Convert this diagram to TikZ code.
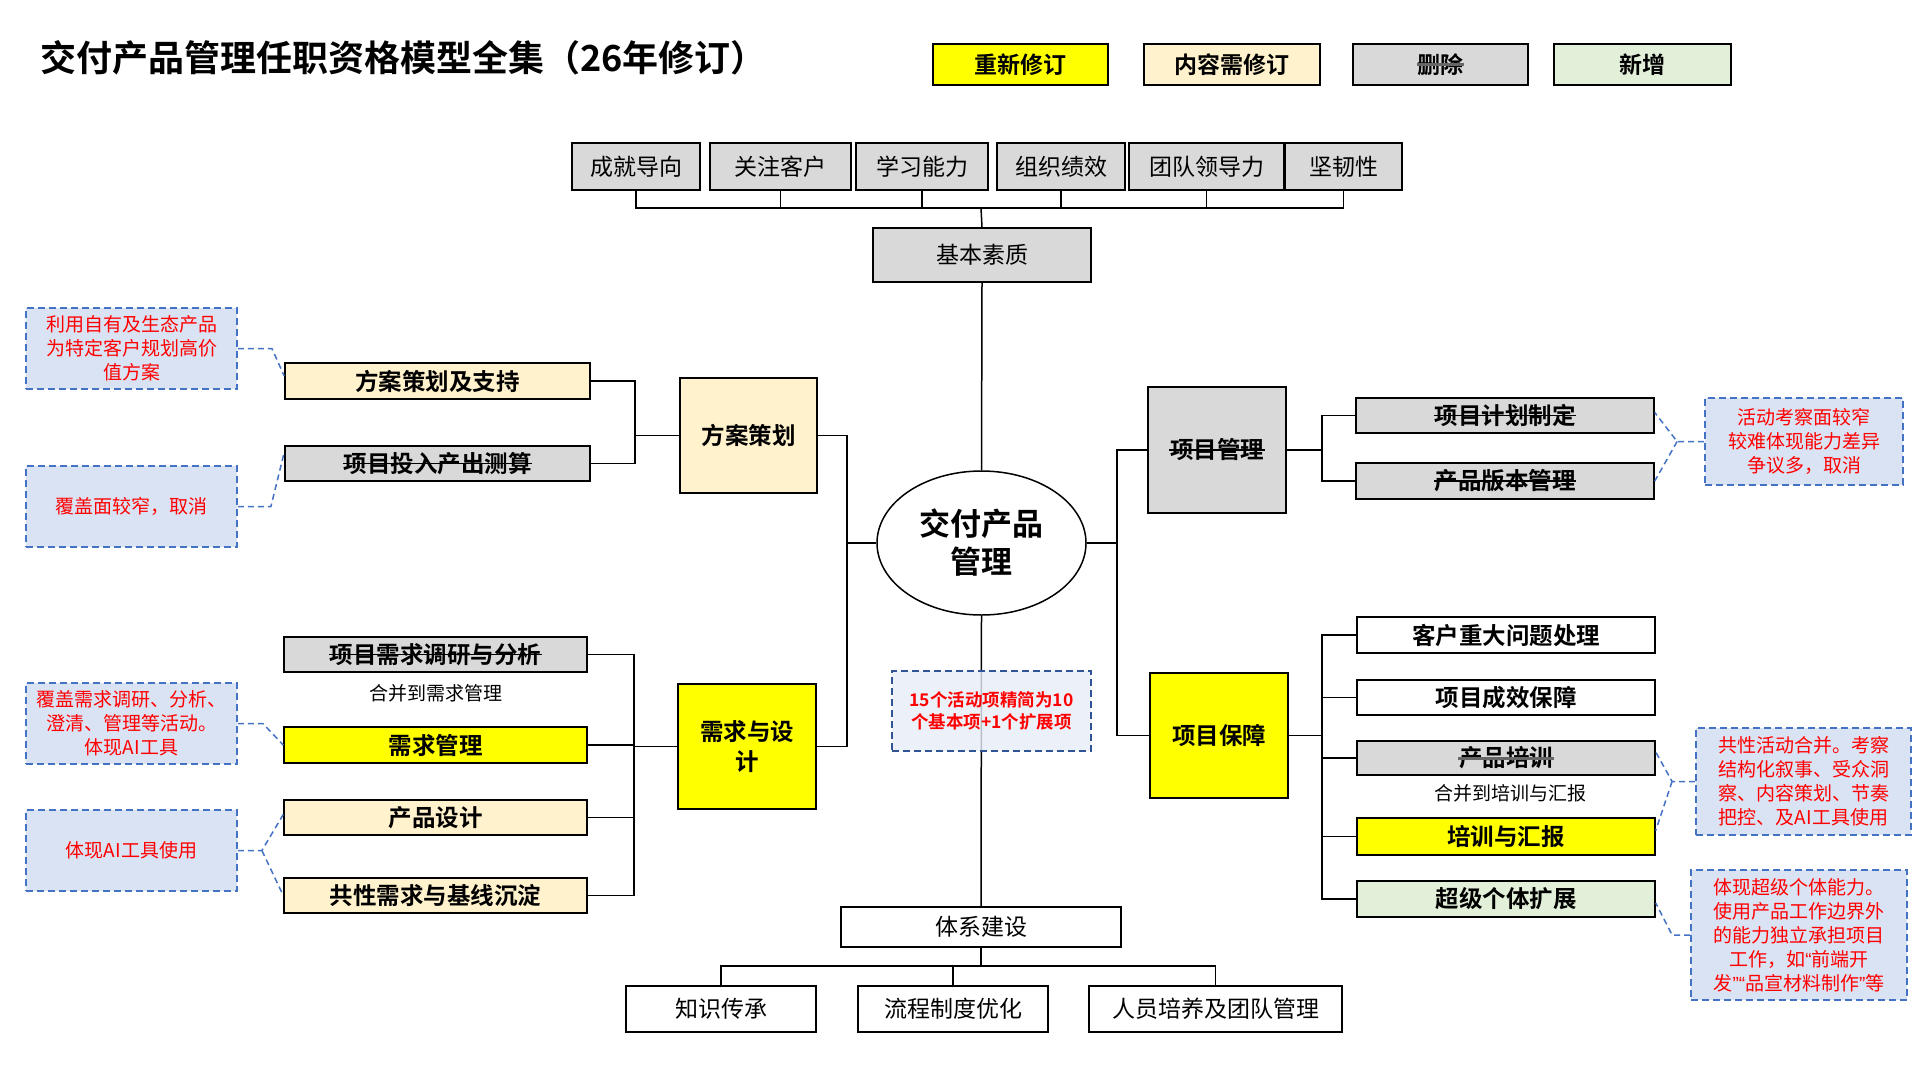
\documentclass[tikz,border=0pt]{standalone}
\usepackage{fontspec}
\setmainfont{Noto Sans CJK SC}[BoldFont={Noto Sans CJK SC Bold}]
\newfontfamily\latinq{Liberation Sans}
\usetikzlibrary{calc,shapes.geometric}
\definecolor{cyel}{HTML}{FFFF00}
\definecolor{ccream}{HTML}{FFF2CC}
\definecolor{cgray}{HTML}{D9D9D9}
\definecolor{cgreen}{HTML}{E2F0D9}
\definecolor{cnote}{HTML}{DAE3F3}
\definecolor{cnotetwo}{HTML}{E8EEF8}
\definecolor{cdash}{HTML}{4472C4}
\definecolor{cdashtwo}{HTML}{2F5597}
\definecolor{cred}{HTML}{FF0000}
\newcommand\mkbox[7]{\node[#2, minimum width={#5pt-#3pt}, minimum height={#6pt-#4pt}] (#1) at ({(#3+#5)/2},{(#4+#6)/2}) {#7};}
\newcommand\mkstrike[8]{\mkbox{#1}{#2}{#3}{#4}{#5}{#6}{}%
  \node[#2, draw=none, fill=none, minimum width=0pt, minimum height=0pt, inner sep=0pt] (#1t) at (#1.center) {#7};%
  \draw[#8] (#1t.west) -- (#1t.east);}
\newcommand\myql{{\latinq “}}
\newcommand\myqr{{\latinq ”}}
\begin{document}
\begin{tikzpicture}[x=1pt,y=-1pt,
 base/.style={draw=black, line width=1.5pt, inner sep=0pt, align=center, rectangle},
 top/.style={base, fill=cgray, font=\fontsize{23}{27}\selectfont},
 plain/.style={base, fill=white, font=\fontsize{23}{27}\selectfont},
 item/.style={base, font=\fontsize{23.5}{27}\selectfont\bfseries},
 branch/.style={base, font=\fontsize{23.5}{30}\selectfont\bfseries},
 legend/.style={base, font=\fontsize{23}{27}\selectfont\bfseries},
 note/.style={base, draw=cdash, dash pattern=on 7pt off 4pt, line width=1.8pt, fill=cnote, text=cred, font=\fontsize{19}{24}\selectfont},
 conn/.style={draw=black, line width=1.5pt},
 call/.style={draw=cdash, line width=1.5pt, dash pattern=on 6pt off 4pt},
 strk/.style={draw=black, line width=1.6pt},
 strkg/.style={draw=black!60, line width=3pt},
 merge/.style={inner sep=0pt, font=\fontsize{19}{23}\selectfont}
]
\fill[white] (0,0) rectangle (1920,1080);
\useasboundingbox (0,0) rectangle (1920,1080);

% title
\node[anchor=west, inner sep=0pt, font=\fontsize{36}{40}\selectfont\bfseries] (title) at (40,58) {交付产品管理任职资格模型全集（26年修订）};

% legend
\mkbox{lg1}{legend, fill=cyel}{933}{44}{1108}{85}{重新修订}
\mkbox{lg2}{legend, fill=ccream}{1144}{44}{1320}{85}{内容需修订}
\mkstrike{lg3}{legend, fill=cgray}{1353}{44}{1528}{85}{删除}{strkg}
\mkbox{lg4}{legend, fill=cgreen}{1554}{44}{1731}{85}{新增}

% top row
\mkbox{t1}{top}{572}{143}{700}{190}{成就导向}
\mkbox{t2}{top}{710}{143}{851}{190}{关注客户}
\mkbox{t3}{top}{856}{143}{988}{190}{学习能力}
\mkbox{t4}{top}{997}{143}{1125}{190}{组织绩效}
\mkbox{t5}{top}{1129}{143}{1284}{190}{团队领导力}
\mkbox{t6}{top}{1285}{143}{1402}{190}{坚韧性}
\mkbox{jb}{top}{873}{228}{1091}{282}{基本素质}

% center
\node[draw=black, line width=1.5pt, ellipse, fill=white, minimum width=209pt, minimum height=144pt, inner sep=0pt, align=center, font=\fontsize{31}{38}\selectfont\bfseries] (ell) at (981.5,543) {交付产品\\管理};

% bottom
\mkbox{sys}{plain}{841}{907}{1121}{947}{体系建设}
\mkbox{k1}{plain}{626}{986}{816}{1032}{知识传承}
\mkbox{k2}{plain}{858}{986}{1048}{1032}{流程制度优化}
\mkbox{k3}{plain}{1089}{986}{1342}{1032}{人员培养及团队管理}

% left branches
\mkbox{fa}{branch, fill=ccream}{680}{378}{817}{493}{方案策划}
\mkbox{xq}{branch, fill=cyel}{678}{684}{816}{809}{需求与设\\计}
\mkbox{a1}{item, fill=ccream}{285}{363}{590}{399}{方案策划及支持}
\mkstrike{a2}{item, fill=cgray}{285}{446}{590}{481}{项目投入产出测算}{strk}
\mkstrike{q1}{item, fill=cgray}{284}{637}{587}{672}{项目需求调研与分析}{strk}
\node[merge] (m1) at (436,693) {合并到需求管理};
\mkbox{q2}{item, fill=cyel}{284}{727}{587}{763}{需求管理}
\mkbox{q3}{item, fill=ccream}{284}{800}{587}{835}{产品设计}
\mkbox{q4}{item, fill=ccream}{284}{878}{587}{913}{共性需求与基线沉淀}

% left notes
\mkbox{n1}{note}{26}{308}{237}{389}{利用自有及生态产品\\为特定客户规划高价\\值方案}
\mkbox{n2}{note}{26}{466}{237}{547}{覆盖面较窄，取消}
\mkbox{n3}{note}{26}{683}{237}{764}{覆盖需求调研、分析、\\澄清、管理等活动。\\体现AI工具}
\mkbox{n4}{note}{26}{810}{237}{891}{体现AI工具使用}

% right branches
\mkstrike{pm}{branch, fill=cgray}{1148}{387}{1286}{513}{项目管理}{strk}
\mkbox{pg}{branch, fill=cyel}{1150}{673}{1288}{798}{项目保障}
\mkstrike{p1}{item, fill=cgray}{1356}{398}{1654}{433}{项目计划制定}{strk}
\mkstrike{p2}{item, fill=cgray}{1356}{463}{1654}{499}{产品版本管理}{strk}
\mkbox{g1}{item, fill=white}{1357}{617}{1655}{653}{客户重大问题处理}
\mkbox{g2}{item, fill=white}{1357}{680}{1655}{715}{项目成效保障}
\mkstrike{g3}{item, fill=cgray}{1357}{741}{1655}{775}{产品培训}{strkg}
\node[merge] (m2) at (1510,793) {合并到培训与汇报};
\mkbox{g4}{item, fill=cyel}{1357}{818}{1655}{855}{培训与汇报}
\mkbox{g5}{item, fill=cgreen}{1357}{881}{1655}{917}{超级个体扩展}

% right notes
\mkbox{r1}{note}{1705}{398}{1903}{485}{活动考察面较窄\\较难体现能力差异\\争议多，取消}
\mkbox{r2}{note}{1696}{728}{1911}{835}{共性活动合并。考察\\结构化叙事、受众洞\\察、内容策划、节奏\\把控、及AI工具使用}
\mkbox{r3}{note}{1691}{870}{1907}{1000}{体现超级个体能力。\\使用产品工作边界外\\的能力独立承担项目\\工作，如\myql 前端开\\发\myqr\myql 品宣材料制作\myqr 等}

% connectors: top
\coordinate (jT) at (981,208);
\foreach \n in {t1,t2,t3,t4,t5,t6} \draw[conn] (\n.south) |- (jT);
\draw[conn] (jT) -- (jb.north);
\draw[conn] (jb.south) -- (ell.north);
\draw[conn] (ell.south) -- (sys.north);
\coordinate (jB) at (981,966);
\draw[conn] (sys.south) -- (jB);
\foreach \n in {k1,k2,k3} \draw[conn] (\n.north) |- (jB);

% connectors: left
\coordinate (xL) at (847,543);
\draw[conn] (ell.west) -- (xL);
\draw[conn] (fa.east) -| (xL) |- (xq.east);
\coordinate (jA) at (635,435.5);
\draw[conn] (a1.east) -| (jA) -- (fa.west);
\draw[conn] (a2.east) -| (jA);
\coordinate (jQ) at (634,746.5);
\foreach \n in {q1,q2,q3,q4} \draw[conn] (\n.east) -| (jQ);
\draw[conn] (jQ) -- (xq.west);

% connectors: right
\coordinate (xR) at (1117,543);
\draw[conn] (ell.east) -- (xR);
\draw[conn] (pm.west) -| (xR) |- (pg.west);
\coordinate (jP) at (1322,450);
\draw[conn] (pm.east) -- (jP);
\draw[conn] (p1.west) -| (jP);
\draw[conn] (p2.west) -| (jP);
\coordinate (jG) at (1322,735.5);
\draw[conn] (pg.east) -- (jG);
\foreach \n in {g1,g2,g3,g4,g5} \draw[conn] (\n.west) -| (jG);

% callouts
\draw[call] (n1.east) -- ++(34,0) -- ($(a1.west)+(0,-5)$);
\draw[call] (n2.east) -- ++(33,0) -- ($(a2.north west)+(0,7)$);
\draw[call] (n3.east) -- ++(25,0) -- (q2.west);
\draw[call] (n4.east) -- ++(24,0) coordinate (c4) -- ($(q3.west)+(0,-3)$);
\draw[call] (c4) -- (q4.west);
\draw[call] (r1.west) -- ++(-27,0) coordinate (c5) -- ($(p1.east)+(0,-3)$);
\draw[call] (c5) -- (p2.east);
\draw[call] (r2.west) -- ++(-23,0) coordinate (c6) -- ($(g3.east)+(0,-6)$);
\draw[call] (c6) -- ($(g4.east)+(0,-6)$);
\draw[call] (r3.west) -- ++(-18,0) -- ($(g5.east)+(0,4)$);

% center note (semi-transparent over trunk line)
\node[draw=cdashtwo, dash pattern=on 7pt off 4pt, line width=1.5pt, fill=cnotetwo, fill opacity=0.8, text opacity=1, text=cred, font=\fontsize{17.5}{22}\selectfont\bfseries, align=center, inner sep=0pt, minimum width=199pt, minimum height=80pt] (cn) at (991.5,711) {15个活动项精简为10\\个基本项+1个扩展项};
\end{tikzpicture}
\end{document}
